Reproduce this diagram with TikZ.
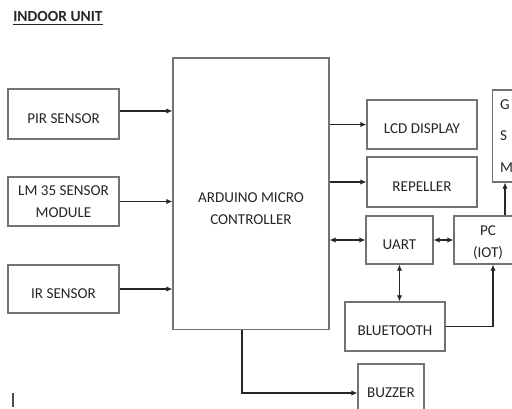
\documentclass[tikz,border=0pt]{standalone}
\usepackage{fontspec}
\setmainfont{Carlito}
\usetikzlibrary{arrows.meta,calc}
\tikzset{
  blk/.style={draw=black!55, line width=0.6pt, text=black!85, align=center,
    inner sep=0pt, font=\fontsize{8.6}{12.5}\selectfont},
  one/.style={text height=10.8pt, text depth=0pt},
  arr/.style={draw=black!85, line width=0.6pt, -{Latex[length=3.5pt,width=3pt]}},
  darr/.style={draw=black!85, line width=0.6pt, {Latex[length=3.5pt,width=3pt]}-{Latex[length=3.5pt,width=3pt]}}
}
\begin{document}
\begin{tikzpicture}[x=0.02cm,y=-0.02cm]
\clip (0,0) rectangle (512,409);
\fill[white] (0,0) rectangle (512,409);
\node[anchor=base west, inner sep=0pt, text=black!85, font=\fontsize{8.8}{10}\selectfont\bfseries] (title) at (13,22) {\underline{INDOOR UNIT}};
% boxes
\node[blk, one, minimum width=2.22cm, minimum height=1.0cm] (pir) at (63.5,114) {PIR SENSOR};
\node[blk, minimum width=2.22cm, minimum height=0.98cm] (lm) at (63.5,201.5) {LM 35 SENSOR\\MODULE};
\node[blk, one, minimum width=2.22cm, minimum height=0.96cm] (ir) at (63.5,289) {IR SENSOR};
\node[blk, text height=35pt, minimum width=3.12cm, minimum height=5.44cm] (ard) at (251,194) {ARDUINO MICRO\\CONTROLLER};
\node[blk, one, minimum width=2.2cm, minimum height=0.98cm] (lcd) at (422,124.5) {LCD DISPLAY};
\node[blk, one, minimum width=2.2cm, minimum height=1.0cm] (rep) at (422,182) {REPELLER};
\node[blk, anchor=west, minimum width=0.9cm, minimum height=1.84cm, text width=0.6cm, inner xsep=0.14cm, align=left, font=\fontsize{8.6}{18}\selectfont] (gsm) at (492,136) {G\\S\\M};
\node[blk, one, minimum width=1.34cm, minimum height=0.96cm] (uart) at (399.5,240) {UART};
\node[blk, text height=21.5pt, minimum width=1.36cm, minimum height=0.96cm] (pc) at (488,240) {PC\\(IOT)};
\node[blk, one, minimum width=2.0cm, minimum height=0.98cm] (bt) at (395,326.5) {BLUETOOTH};
\node[blk, minimum width=1.32cm, minimum height=1.16cm] (buz) at (391,393) {BUZZER};
% connectors
\coordinate (p1) at ([yshift=0.06cm]pir.east);
\draw[arr] (p1) -- (p1 -| ard.west);
\draw[arr] (lm.east) -- (lm.east -| ard.west);
\draw[arr] (ir.east) -- (ir.east -| ard.west);
\draw[arr] (ard.east |- lcd.west) -- (lcd.west);
\draw[arr] (ard.east |- rep.west) -- (rep.west);
\draw[darr] (ard.east |- uart.west) -- (uart.west);
\draw[darr] (uart.east) -- (pc.west);
\draw[darr] (uart.south) -- (uart.south |- bt.north);
\coordinate (p2) at ([xshift=0.1cm]pc.south);
\draw[arr] (bt.east) -| (p2);
\coordinate (p3) at ([xshift=0.34cm]pc.north);
\draw[arr] (p3) -- (p3 |- gsm.south);
\coordinate (p4) at ([xshift=-0.18cm]ard.south);
\draw[arr] (p4) |- (buz.west);
% cursor
\draw[black!70, line width=0.6pt] (13,393) -- (13,407);
\end{tikzpicture}
\end{document}
